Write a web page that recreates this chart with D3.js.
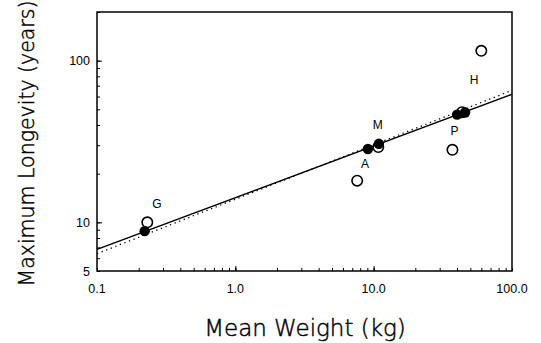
<!DOCTYPE html>
<html><head><meta charset="utf-8">
<script src="https://cdn.jsdelivr.net/npm/d3@7"></script>
<style>body{margin:0;background:#fff}svg{display:block}</style>
</head><body>
<script>
// Data
const openWeight   = [0.231, 7.6, 10.8, 43.5, 37.1, 60];
const openLong     = [10.0, 18.1, 29.2, 48.0, 28.1, 115];
const filledWeight = [0.221, 9.08, 10.9, 40.1, 45.8];
const filledLong   = [8.82, 28.4, 30.6, 46.4, 47.8];
const labelText    = ["G", "M", "A", "P", "H"];
const labelWeight  = [0.271, 10.7, 8.67, 38.4, 53.1];
const labelLong    = [12.3, 38.0, 21.7, 34.5, 71.5];
const solidFitW    = [0.1, 100];
const solidFitL    = [6.8, 62];
const dotFitW      = [0.1, 100];
const dotFitL      = [6.4, 65.5];
const xTickLabels  = ["0.1", "1.0", "10.0", "100.0"];
const xTickVals    = [0.1, 1, 10, 100];
const yTickLabels  = ["5", "10", "100"];
const yTickVals    = [5, 10, 100];

const W = 541, H = 343;
const m = {l: 97, r: 29, t: 12, b: 72};
const svg = d3.select("body").append("svg").attr("width", W).attr("height", H);
const x = d3.scaleLog().domain([0.1, 100]).range([m.l, W - m.r]);
const y = d3.scaleLog().domain([5, 200]).range([H - m.b, m.t]);

const g = svg.append("g");

// minor ticks
const xMinor = [];
[0.1, 1, 10].forEach(d => { for (let k = 1; k <= 10; k++) xMinor.push(d * k); });
const yMinor = [5,6,7,8,9,10,20,30,40,50,60,70,80,90,100,200];

const xAxis = d3.axisBottom(x).tickValues(xMinor).tickSize(-3).tickFormat("");
const yAxis = d3.axisLeft(y).tickValues(yMinor).tickSize(-3).tickFormat("");
g.append("g").attr("transform", `translate(0,${H - m.b})`).call(xAxis)
  .call(s => s.select(".domain").remove())
  .call(s => s.selectAll("line").attr("stroke", "#000").attr("stroke-width", 1));
g.append("g").attr("transform", `translate(${m.l},0)`).call(yAxis)
  .call(s => s.select(".domain").remove())
  .call(s => s.selectAll("line").attr("stroke", "#000").attr("stroke-width", 1));
// major ticks longer
g.append("g").attr("transform", `translate(0,${H - m.b})`)
  .call(d3.axisBottom(x).tickValues([1, 10]).tickSize(-5).tickFormat(""))
  .call(s => s.select(".domain").remove());
g.append("g").attr("transform", `translate(${m.l},0)`)
  .call(d3.axisLeft(y).tickValues([10, 100]).tickSize(-5).tickFormat(""))
  .call(s => s.select(".domain").remove());

// frame
svg.append("rect").attr("x", m.l).attr("y", m.t)
  .attr("width", W - m.r - m.l).attr("height", H - m.b - m.t)
  .attr("fill", "none").attr("stroke", "#000").attr("stroke-width", 1.5);

// tick labels
svg.append("g").selectAll("text").data(xTickVals).join("text")
  .attr("x", d => x(d)).attr("y", 292.5).attr("text-anchor", "middle")
  .attr("font-family", "Liberation Sans, Arial, sans-serif").attr("font-size", 12.5)
  .text((d, i) => xTickLabels[i]);
svg.append("g").selectAll("text").data(yTickVals).join("text")
  .attr("x", 90).attr("y", d => y(d)).attr("dy", "0.36em").attr("text-anchor", "end")
  .attr("font-family", "Liberation Sans, Arial, sans-serif").attr("font-size", 12.5)
  .text((d, i) => yTickLabels[i]);

// fit lines
const line = d3.line().x(d => x(d[0])).y(d => y(d[1]));
svg.append("path").datum(dotFitW.map((w, i) => [w, dotFitL[i]]))
  .attr("d", line).attr("fill", "none").attr("stroke", "#000")
  .attr("stroke-width", 1.3).attr("stroke-dasharray", "1.3,3.6");
svg.append("path").datum(solidFitW.map((w, i) => [w, solidFitL[i]]))
  .attr("d", line).attr("fill", "none").attr("stroke", "#000").attr("stroke-width", 1.5);

// points
svg.append("g").selectAll("circle").data(filledWeight).join("circle")
  .attr("cx", d => x(d)).attr("cy", (d, i) => y(filledLong[i])).attr("r", 5.2)
  .attr("fill", "#000");
svg.append("g").selectAll("circle").data(openWeight).join("circle")
  .attr("cx", d => x(d)).attr("cy", (d, i) => y(openLong[i])).attr("r", 5.2)
  .attr("fill", "none").attr("stroke", "#000").attr("stroke-width", 1.6);

// point labels
svg.append("g").selectAll("text").data(labelText).join("text")
  .attr("x", (d, i) => x(labelWeight[i])).attr("y", (d, i) => y(labelLong[i]))
  .attr("text-anchor", "middle")
  .attr("font-family", "Liberation Sans, Arial, sans-serif").attr("font-size", 12)
  .text(d => d);

// axis titles
svg.append("text").attr("x", 305).attr("y", 336).attr("text-anchor", "middle")
  .attr("font-family", "DejaVu Sans, sans-serif").attr("font-weight", 200).attr("font-size", 23)
  .attr("fill", "#000").attr("stroke", "#000").attr("stroke-width", 0.45)
  .text("Mean Weight (kg)");
svg.append("text").attr("transform", "translate(33.5,143.5) rotate(-90)")
  .attr("text-anchor", "middle")
  .attr("font-family", "DejaVu Sans, sans-serif").attr("font-weight", 200).attr("font-size", 20.5)
  .attr("fill", "#000").attr("stroke", "#000").attr("stroke-width", 0.45)
  .text("Maximum Longevity (years)");
</script>
</body></html>
